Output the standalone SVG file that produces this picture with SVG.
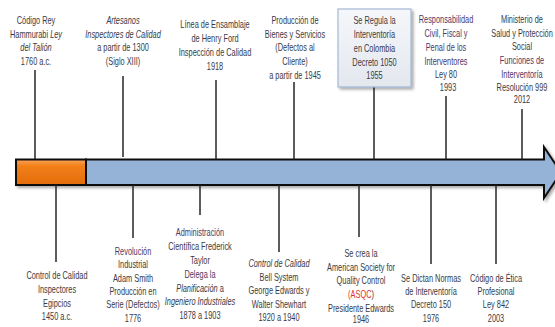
<svg xmlns="http://www.w3.org/2000/svg" width="555" height="327" viewBox="0 0 555 327">
<style>
text{font-family:"Liberation Sans",Arial,sans-serif;font-size:10.7px;fill:#3a3a44;text-anchor:middle}
.p{fill:#4e3766}
.r{fill:#e0302a}
.i{font-style:italic}
.ln{stroke:#262626;stroke-width:1.5;fill:none}
</style>
<defs>
<linearGradient id="og" x1="0" y1="0" x2="0" y2="1">
<stop offset="0" stop-color="#f9a45a"/><stop offset="0.25" stop-color="#f2801a"/><stop offset="1" stop-color="#e36c0a"/>
</linearGradient>
<linearGradient id="bg" x1="0" y1="0" x2="0" y2="1">
<stop offset="0" stop-color="#f5f7fa"/><stop offset="1" stop-color="#e3e7ee"/>
</linearGradient>
<filter id="sh" x="-10%" y="-30%" width="130%" height="170%">
<feGaussianBlur in="SourceAlpha" stdDeviation="1.5"/><feOffset dx="1.5" dy="2" result="b"/>
<feComponentTransfer><feFuncA type="linear" slope="0.35"/></feComponentTransfer>
<feMerge><feMergeNode/><feMergeNode in="SourceGraphic"/></feMerge>
</filter>
</defs>
<g id="timeline" filter="url(#sh)">
<polygon points="86,159.5 544,159.5 544,147 561,172.5 544,198 544,185 86,185" fill="#95b3d7" stroke="#111" stroke-width="2" stroke-linejoin="miter"/>
<rect x="16" y="159.5" width="70" height="25.5" fill="url(#og)" stroke="#111" stroke-width="2"/>
</g>
<g id="connectors">
<line class="ln" x1="35" y1="70" x2="35" y2="159"/>
<line class="ln" x1="123" y1="76" x2="123" y2="157"/>
<line class="ln" x1="216" y1="80" x2="216" y2="159"/>
<line class="ln" x1="294" y1="82" x2="294" y2="159"/>
<line class="ln" x1="374" y1="87" x2="374" y2="159"/>
<line class="ln" x1="446" y1="96" x2="446" y2="159"/>
<line class="ln" x1="522" y1="109" x2="522" y2="159"/>
<line class="ln" x1="56" y1="185" x2="56" y2="262"/>
<line class="ln" x1="133" y1="185" x2="133" y2="238"/>
<line class="ln" x1="200" y1="185" x2="200" y2="215"/>
<line class="ln" x1="279" y1="185" x2="279" y2="252"/>
<line class="ln" x1="359" y1="185" x2="359" y2="237"/>
<line class="ln" x1="431" y1="185" x2="431" y2="264"/>
<line class="ln" x1="496" y1="185" x2="496" y2="264"/>
</g>
<g id="n1760" transform="translate(36 0) scale(0.69 1)">
<text y="24">Código Rey</text>
<text y="37.7">Hammurabi <tspan class="i">Ley</tspan></text>
<text y="51.3" class="i">del Talión</text>
<text y="65">1760 a.c.</text>
</g>
<g id="n1300" transform="translate(123 0) scale(0.69 1)">
<text y="24" class="i">Artesanos</text>
<text y="37.7" class="i">Inspectores de Calidad</text>
<text y="51.3">a partir de 1300</text>
<text y="65">(Siglo XIII)</text>
</g>
<g id="n1918" transform="translate(215 0) scale(0.69 1)">
<text y="28.5">Línea de Ensamblaje</text>
<text y="42.5">de Henry Ford</text>
<text y="56.5">Inspección de Calidad</text>
<text y="70.5">1918</text>
</g>
<g id="n1945" transform="translate(295 0) scale(0.69 1)">
<text y="24">Producción de</text>
<text y="37.7">Bienes y Servicios</text>
<text y="51.5">(Defectos al</text>
<text y="65.3">Cliente)</text>
<text y="79">a partir de 1945</text>
</g>
<g id="n1955">
<rect x="338" y="9" width="73" height="78" fill="url(#bg)" stroke="#95acd0" stroke-width="1" filter="url(#sh)"/>
<g transform="translate(374.5 0) scale(0.69 1)">
<text y="24.5">Se Regula la</text>
<text y="38.2">Interventoría</text>
<text y="52">en Colombia</text>
<text y="65.7">Decreto 1050</text>
<text y="79.3">1955</text>
</g>
</g>
<g id="n1993" transform="translate(446 0) scale(0.69 1)">
<text y="23" class="p">Responsabilidad</text>
<text y="37" class="p">Civil, Fiscal y</text>
<text y="51" class="p">Penal de los</text>
<text y="65" class="p">Interventores</text>
<text y="78.3">Ley 80</text>
<text y="91.5" x="3">1993</text>
</g>
<g id="n2012" transform="translate(522 0) scale(0.69 1)">
<text y="23">Ministerio de</text>
<text y="36.7">Salud y Protección</text>
<text y="50.5">Social</text>
<text y="64.3" class="p">Funciones de</text>
<text y="77.7" class="p">Interventoría</text>
<text y="91.3">Resolución 999</text>
<text y="103.5">2012</text>
</g>
<g id="n1450" transform="translate(57 0) scale(0.69 1)">
<text y="279">Control de Calidad</text>
<text y="293">Inspectores</text>
<text y="307">Egipcios</text>
<text y="320.5">1450 a.c.</text>
</g>
<g id="n1776" transform="translate(133 0) scale(0.69 1)">
<text y="255" class="p">Revolución</text>
<text y="268.3">Industrial</text>
<text y="281.7">Adam Smith</text>
<text y="295">Producción en</text>
<text y="308.3">Serie (Defectos)</text>
<text y="321.7">1776</text>
</g>
<g id="n1878" transform="translate(200 0) scale(0.69 1)">
<text y="236.5" class="p">Administración</text>
<text y="250.5">Científica Frederick</text>
<text y="264.2">Taylor</text>
<text y="278.3" class="p">Delega la</text>
<text y="292"><tspan class="i">Planificación</tspan> a</text>
<text y="305.3" class="i">Ingeniero Industriales</text>
<text y="318.7">1878 a 1903</text>
</g>
<g id="n1920" transform="translate(279 0) scale(0.69 1)">
<text y="267" class="i">Control de Calidad</text>
<text y="281">Bell System</text>
<text y="294.5">George Edwards y</text>
<text y="308">Walter Shewhart</text>
<text y="321.5">1920 a 1940</text>
</g>
<g id="n1946" transform="translate(361 0) scale(0.69 1)">
<text y="257">Se crea la</text>
<text y="270.7">American Society for</text>
<text y="284.5">Quality Control</text>
<text y="298.5"><tspan class="r">(ASQC</tspan>)</text>
<text y="312">Presidente Edwards</text>
<text y="323.5">1946</text>
</g>
<g id="n1976" transform="translate(431 0) scale(0.69 1)">
<text y="282">Se Dictan Normas</text>
<text y="294.7">de Interventoría</text>
<text y="308.2">Decreto 150</text>
<text y="321.7">1976</text>
</g>
<g id="n2003" transform="translate(496 0) scale(0.69 1)">
<text y="282">Código de Ética</text>
<text y="294.7">Profesional</text>
<text y="308.2">Ley 842</text>
<text y="321.7">2003</text>
</g>
</svg>
